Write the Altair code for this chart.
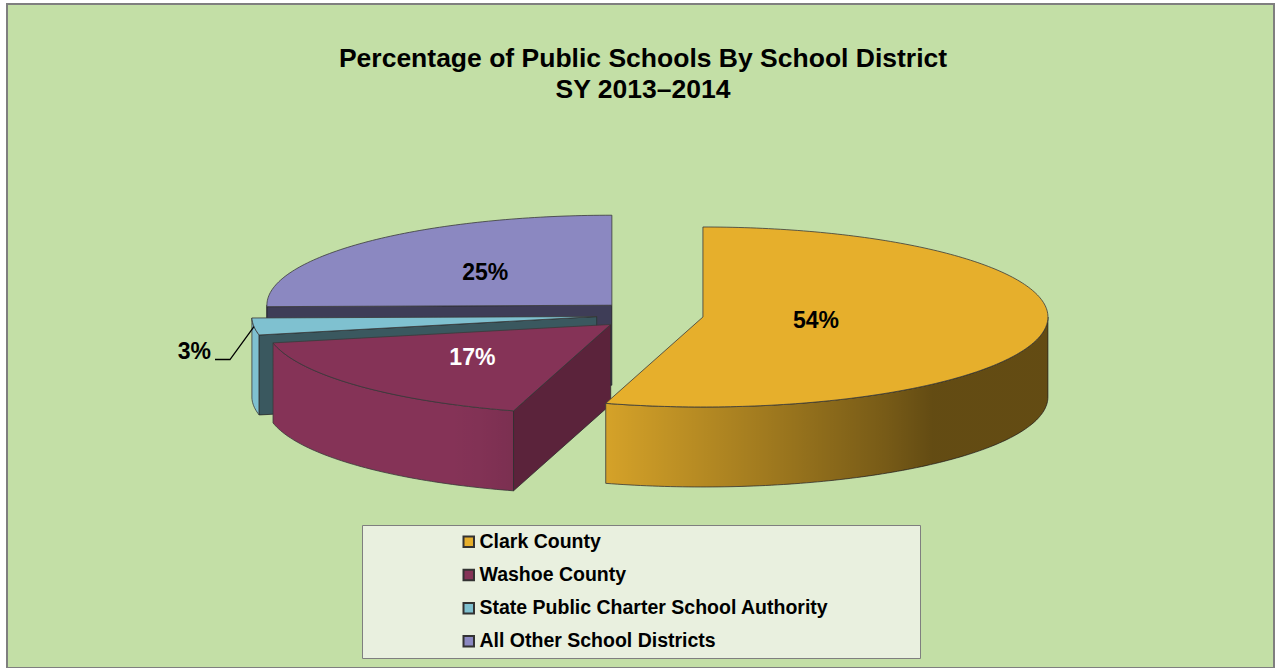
import math
import altair as alt
import numpy as np
import pandas as pd

# ---------------- data ----------------
names = ["Clark County", "Washoe County",
         "State Public Charter School Authority", "All Other School Districts"]
values = [54, 17, 3, 25]
colors = ["#E6AF2C", "#853357", "#7FC1D0", "#8B88C1"]
title_lines = ["Percentage of Public Schools By School District", "SY 2013\u20132014"]

# ---------------- layout ----------------
FONT = "Liberation Sans"
W, H = 1276, 668
PAD_L, PAD_T, PAD_R, PAD_B = 7, 4, 2, 0
PW, PH = W - PAD_L - PAD_R, H - PAD_T - PAD_B

CX, CY = 650, 315          # pie centre
RX, RY = 345, 90           # ellipse radii (3-D tilt)
DEPTH = 80                 # pie thickness
EXPLODE = 0.155            # explosion fraction
EDGE = "#3a3a3a"

total = float(sum(values))
slices = []
start = 0.0
for n, v in zip(names, values):
    sweep = 360.0 * v / total
    a1, a2 = start, start + sweep
    mid = (a1 + a2) / 2
    r = math.radians(mid)
    slices.append(dict(name=n, value=v, a1=a1, a2=a2, mid=mid,
                       ax=CX + EXPLODE * RX * math.sin(r),
                       ay=CY - EXPLODE * RY * math.cos(r)))
    start = a2


def pt(s, a, dz=0.0):
    r = math.radians(a)
    return (s["ax"] + RX * math.sin(r), s["ay"] - RY * math.cos(r) + dz)


def arc(s, lo, hi, dz=0.0):
    k = max(2, int(math.ceil(hi - lo)) + 1)
    return [pt(s, a, dz) for a in np.linspace(lo, hi, k)]


rows = []
pid = 0


def add(name, part, pts):
    global pid
    pts = list(pts) + [pts[0]]
    for i, (x, y) in enumerate(pts):
        rows.append(dict(name=name, part=part, pid=pid, i=i, x=x, y=y))
    pid += 1


for s in slices:
    apex = (s["ax"], s["ay"])
    apex_d = (s["ax"], s["ay"] + DEPTH)
    add(s["name"], "top", [apex] + arc(s, s["a1"], s["a2"]))
    lo, hi = max(s["a1"], 90.0), min(s["a2"], 270.0)
    if hi > lo:
        add(s["name"], "wall", arc(s, lo, hi) + arc(s, lo, hi, DEPTH)[::-1])
    if math.sin(math.radians(s["a1"])) < -1e-6:
        add(s["name"], "cut", [apex, pt(s, s["a1"]), pt(s, s["a1"], DEPTH), apex_d])
    if math.sin(math.radians(s["a2"])) > 1e-6:
        add(s["name"], "cut", [apex, pt(s, s["a2"]), pt(s, s["a2"], DEPTH), apex_d])

geo = pd.DataFrame(rows)

# labels
lab_rows, lead_rows = [], []
for s in slices:
    share = s["value"] / total
    text = f"{s['value']}%"
    r = math.radians(s["mid"])
    if share >= 0.05:
        h = math.radians((s["a2"] - s["a1"]) / 2)
        c = 0.86 * (2.0 / 3.0) * math.sin(h) / h
        lab_rows.append(dict(name=s["name"], text=text, inside=True,
                             lx=s["ax"] + c * RX * math.sin(r),
                             ly=s["ay"] - c * RY * math.cos(r)))
    else:
        p1 = pt(s, s["mid"])
        p2 = (p1[0] - 24, p1[1] + 33)
        p3 = (p2[0] - 15, p2[1])
        for i, (x, y) in enumerate([p1, p2, p3]):
            lead_rows.append(dict(name=s["name"], i=i, x=x, y=y))
        lab_rows.append(dict(name=s["name"], text=text, inside=False,
                             lx=p3[0] - 4, ly=p3[1] - 1))
labels = pd.DataFrame(lab_rows)
leaders = pd.DataFrame(lead_rows)


def lum(hexc):
    r, g, b = (int(hexc[i:i + 2], 16) / 255 for i in (1, 3, 5))
    return 0.299 * r + 0.587 * g + 0.114 * b


dark_names = [n for n, c in zip(names, colors) if lum(c) < 0.4]

# ---------------- encodings ----------------
X = alt.X("x:Q", scale=alt.Scale(domain=[PAD_L, PAD_L + PW], nice=False, zero=False), axis=None)
Y = alt.Y("y:Q", scale=alt.Scale(domain=[PAD_T, PAD_T + PH], nice=False, zero=False, reverse=True), axis=None)
LX = alt.X("lx:Q", scale=alt.Scale(domain=[PAD_L, PAD_L + PW], nice=False, zero=False), axis=None)
LY = alt.Y("ly:Q", scale=alt.Scale(domain=[PAD_T, PAD_T + PH], nice=False, zero=False, reverse=True), axis=None)

legend = alt.Legend(
    title="MMMMMM", titleOpacity=0, titleOrient="right", titleFontSize=14,
    titleFont=FONT, titleFontWeight="bold", titlePadding=15,
    orient="none", legendX=362 - PAD_L, legendY=525 - PAD_T,
    fillColor="#E9F0DF", strokeColor="#7F7F7F", padding=7,
    symbolType="square", symbolSize=110, symbolStrokeColor="#333333",
    symbolStrokeWidth=2, symbolOffset=90,
    labelFont=FONT, labelFontSize=19.5, labelFontWeight="bold", labelColor="black",
    labelOffset=1, rowPadding=12.2, labelLimit=600,
)
COLOR = alt.Color("name:N", scale=alt.Scale(domain=names, range=colors), legend=legend)


def wall_shade(a):
    return float(np.clip((205.0 - a) * 0.0085, 0.0, 0.57))


base = alt.Chart(geo)
layers = []
for s in reversed(slices):
    n = s["name"]
    sub = base.transform_filter(alt.datum.name == n)
    layers.append(
        sub.transform_filter(alt.datum.part != "top")
        .mark_line(filled=True, stroke=EDGE, strokeWidth=0.8)
        .encode(x=X, y=Y, color=COLOR, detail="pid:N", order="i:Q"))
    lo, hi = max(s["a1"], 90.0), min(s["a2"], 270.0)
    if hi > lo:
        angs = np.linspace(lo, hi, 12)
        xs = np.array([pt(s, a)[0] for a in angs])
        xmin, xmax = xs.min(), xs.max()
        stops = sorted(
            [((x - xmin) / (xmax - xmin), wall_shade(a)) for x, a in zip(xs, angs)])
        grad = alt.LinearGradient(
            gradient="linear", x1=0, x2=1, y1=0, y2=0,
            stops=[alt.GradientStop(offset=float(o), color=f"rgba(0,0,0,{sh:.3f})")
                   for o, sh in stops])
        layers.append(
            sub.transform_filter(alt.datum.part == "wall")
            .mark_line(filled=True, fill=grad, strokeOpacity=0)
            .encode(x=X, y=Y, detail="pid:N", order="i:Q"))
    cut_shade = 0.22 + 0.33 * max(0.0, -math.sin(math.radians(s["a1"])))
    layers.append(
        sub.transform_filter(alt.datum.part == "cut")
        .mark_line(filled=True, fill="black", fillOpacity=cut_shade, strokeOpacity=0)
        .encode(x=X, y=Y, detail="pid:N", order="i:Q"))
    layers.append(
        sub.transform_filter(alt.datum.part == "top")
        .mark_line(filled=True, stroke=EDGE, strokeWidth=0.8)
        .encode(x=X, y=Y, color=COLOR, detail="pid:N", order="i:Q"))

lead_layer = alt.Chart(leaders).mark_line(stroke="black", strokeWidth=1.3).encode(
    x=X, y=Y, detail="name:N", order="i:Q")

in_labels = alt.Chart(labels).transform_filter(alt.datum.inside == True).mark_text(
    font=FONT, fontSize=23, fontWeight="bold", align="center", baseline="middle"
).encode(
    x=LX, y=LY, text="text:N",
    color=alt.condition(alt.FieldOneOfPredicate(field="name", oneOf=dark_names),
                        alt.value("white"), alt.value("black")))

out_labels = alt.Chart(labels).transform_filter(alt.datum.inside == False).mark_text(
    font=FONT, fontSize=23, fontWeight="bold", align="right", baseline="alphabetic",
    color="black"
).encode(x=LX, y=LY, text="text:N")

title_layer = alt.Chart(pd.DataFrame({"t": [0]})).mark_text(
    text=title_lines, font=FONT, fontSize=26.5, fontWeight="bold", color="black",
    align="center", baseline="alphabetic", lineHeight=31
).encode(x=alt.value(643 - PAD_L), y=alt.value(67 - PAD_T))

chart = alt.layer(*layers, lead_layer, in_labels, out_labels, title_layer).properties(
    width=PW, height=PH,
    padding={"left": PAD_L, "top": PAD_T, "right": PAD_R, "bottom": PAD_B},
    autosize=alt.AutoSizeParams(type="none"),
    background="white",
).configure_view(fill="#C3DFA6", stroke="#7F7F7F", strokeWidth=2)

chart.save("out.html", embed_options={"renderer": "svg", "actions": False})
